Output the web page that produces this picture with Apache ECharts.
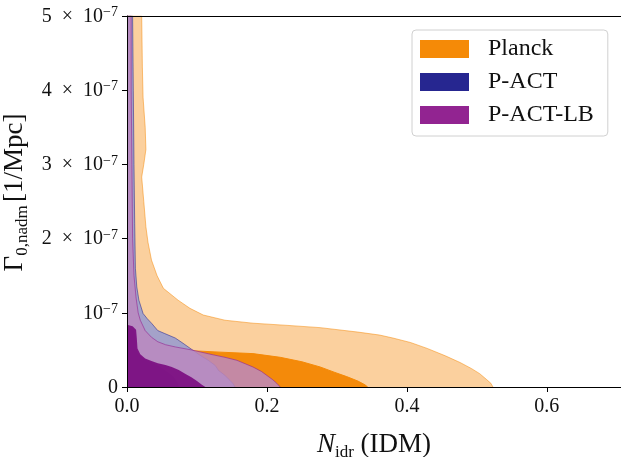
<!DOCTYPE html>
<html>
<head>
<meta charset="utf-8">
<script src="https://cdn.jsdelivr.net/npm/echarts@6/dist/echarts.min.js"></script>
<style>
  html, body { margin: 0; padding: 0; background: #fff; }
  #chart-panel { width: 621px; height: 457px; }
</style>
</head>
<body>
<div id="chart-panel"></div>
<script>
// contour edges, [N_idr, Gamma in units of 1e-7 1/Mpc], from the top-left down to the x axis
var planck95 = [[0, 5.0], [0.021, 5.0], [0.022, 4.3], [0.023, 3.9], [0.026, 3.5], [0.027, 3.2], [0.024, 3.0],
    [0.021, 2.83], [0.024, 2.5], [0.027, 2.16], [0.030, 1.95], [0.035, 1.71], [0.043, 1.5], [0.052, 1.33],
    [0.073, 1.17], [0.090, 1.06], [0.109, 0.97], [0.140, 0.90], [0.18, 0.86], [0.23, 0.83], [0.276, 0.80],
    [0.33, 0.74], [0.361, 0.70], [0.380, 0.66], [0.405, 0.60], [0.429, 0.52], [0.455, 0.42], [0.476, 0.33],
    [0.492, 0.25], [0.504, 0.18], [0.514, 0.10], [0.520, 0.05], [0.523, 0]];
var planck68 = [[0, 0.56], [0.03, 0.53], [0.06, 0.50], [0.09, 0.49], [0.133, 0.47], [0.18, 0.45], [0.219, 0.40],
    [0.25, 0.34], [0.276, 0.27], [0.296, 0.20], [0.314, 0.14], [0.330, 0.08], [0.340, 0.03], [0.344, 0]];
var pact95 = [[0, 5.0], [0.008, 5.0], [0.009, 4.0], [0.010, 3.0], [0.011, 2.2], [0.012, 1.6], [0.014, 1.35],
    [0.017, 1.17], [0.023, 0.99], [0.029, 0.92], [0.035, 0.86], [0.044, 0.76], [0.054, 0.72], [0.069, 0.66],
    [0.080, 0.59], [0.092, 0.51], [0.104, 0.43], [0.116, 0.36], [0.126, 0.29], [0.131, 0.22], [0.134, 0.20],
    [0.140, 0.155], [0.147, 0.09], [0.152, 0.04], [0.154, 0]];
var pact68 = [[0, 0.78], [0.010, 0.76], [0.012, 0.70], [0.013, 0.55], [0.015, 0.46], [0.020, 0.41], [0.026, 0.37],
    [0.035, 0.33], [0.044, 0.29], [0.052, 0.24], [0.060, 0.19], [0.066, 0.14], [0.070, 0.09], [0.073, 0.04],
    [0.074, 0]];
var pactlb95 = [[0, 5.0], [0.006, 5.0], [0.006, 4.0], [0.007, 3.0], [0.008, 2.0], [0.010, 1.5], [0.013, 1.2],
    [0.016, 1.0], [0.019, 0.90], [0.026, 0.76], [0.035, 0.67], [0.044, 0.61], [0.055, 0.57], [0.069, 0.54],
    [0.092, 0.50], [0.12, 0.44], [0.14, 0.40], [0.157, 0.36], [0.18, 0.27], [0.192, 0.21], [0.20, 0.155],
    [0.208, 0.10], [0.214, 0.05], [0.219, 0]];
var pactlb68 = [[0, 0.84], [0.008, 0.82], [0.013, 0.77], [0.014, 0.66], [0.015, 0.52], [0.019, 0.44],
    [0.026, 0.385], [0.035, 0.35], [0.044, 0.32], [0.055, 0.295], [0.064, 0.27], [0.074, 0.23], [0.083, 0.18],
    [0.092, 0.13], [0.100, 0.08], [0.107, 0.03], [0.112, 0]];

var names = ['Planck', 'P-ACT', 'P-ACT-LB'];
var colors = ['#f58a07', '#262690', '#922491'];
var xTicks = [0, 0.2, 0.4, 0.6];
var yTicks = [0, 1, 2, 3, 4, 5];

var font = "'Liberation Serif', 'DejaVu Serif', serif";

// each contour gets its own z so its edge line is covered by the next fill
function region(name, data, fill, opacity, edge, z) {
    return {
        name: name,
        type: 'line',
        z: z,
        data: data,
        symbol: 'none',
        silent: true,
        animation: false,
        lineStyle: { color: edge, width: 1 },
        areaStyle: { color: fill, opacity: opacity }
    };
}

var option = {
    animation: false,
    grid: { left: 127, top: 16, right: 0, bottom: 70, outerBoundsMode: 'none', containLabel: false },
    legend: {
        orient: 'vertical',
        left: 412,
        top: 30,
        z: 20,
        icon: 'rect',
        itemWidth: 49,
        itemHeight: 18,
        itemGap: 9,
        padding: [7, 14, 9, 8],
        borderColor: '#d0d0d0',
        borderWidth: 1,
        borderRadius: 4,
        backgroundColor: 'rgba(255,255,255,0.8)',
        textStyle: { fontFamily: font, fontSize: 24, color: '#111', padding: [0, 0, 0, 14] },
        data: names.map(function (n, i) {
            return { name: n, itemStyle: { color: colors[i], borderWidth: 0 } };
        })
    },
    xAxis: [{
        type: 'value',
        z: 15,
        min: 0,
        max: 0.706,
        name: '{i|N}{sub|idr}  {r|(IDM)}',
        nameLocation: 'middle',
        nameGap: 44,
        nameTextStyle: {
            rich: {
                i: { fontFamily: font, fontStyle: 'italic', fontSize: 27, lineHeight: 30, verticalAlign: 'top', color: '#111' },
                sub: { fontFamily: font, fontSize: 17, lineHeight: 30, verticalAlign: 'bottom', color: '#111' },
                r: { fontFamily: font, fontSize: 27, lineHeight: 30, verticalAlign: 'top', color: '#111' }
            }
        },
        splitLine: { show: false },
        axisLine: { lineStyle: { color: '#000', width: 1 } },
        axisTick: { customValues: xTicks, length: 5, lineStyle: { color: '#000' } },
        axisLabel: {
            customValues: xTicks,
            margin: 10,
            fontFamily: font,
            fontSize: 20,
            color: '#111',
            formatter: function (v) { return v.toFixed(1); }
        }
    }, {
        type: 'value',
        z: 15,
        position: 'top',
        min: 0,
        max: 0.706,
        axisLine: { show: true, lineStyle: { color: '#000', width: 1 } },
        axisTick: { show: false },
        axisLabel: { show: false },
        splitLine: { show: false }
    }],
    yAxis: {
        type: 'value',
        z: 15,
        min: 0,
        max: 5,
        name: '{g|Γ}{sub|0,nadm} {g|[1/Mpc]}',
        nameLocation: 'middle',
        nameGap: 86,
        nameTextStyle: {
            padding: [0, 0, 0, 18],
            rich: {
                g: { fontFamily: font, fontSize: 27, lineHeight: 30, verticalAlign: 'top', color: '#111' },
                sub: { fontFamily: font, fontSize: 17, lineHeight: 30, verticalAlign: 'bottom', color: '#111' }
            }
        },
        splitLine: { show: false },
        axisLine: { show: true, lineStyle: { color: '#000', width: 1 } },
        axisTick: { show: true, customValues: yTicks, length: 5, lineStyle: { color: '#000' } },
        axisLabel: {
            customValues: yTicks,
            margin: 9,
            formatter: function (v) {
                if (v === 0) return '{m|0}';
                if (v === 1) return '{m|10}{s|−7}';
                return '{m|' + v + '\u2002×\u200210}{s|−7}';
            },
            rich: {
                m: { fontFamily: font, fontSize: 20, lineHeight: 21, verticalAlign: 'bottom', color: '#111' },
                s: { fontFamily: font, fontSize: 14, lineHeight: 21, verticalAlign: 'top', color: '#111' }
            }
        }
    },
    series: [
        region('Planck', planck95, '#fbd09e', 1, 'rgba(245,138,7,0.5)', 2),
        region('Planck', planck68, '#f48a0a', 1, '#f58a07', 3),
        region('P-ACT', pact95, '#a4a2c9', 1, 'rgba(38,38,144,0.55)', 4),
        region('P-ACT', pact68, '#262690', 1, 'rgba(38,38,144,0)', 5),
        region('P-ACT-LB', pactlb95, '#bb88bf', 0.85, 'rgba(146,36,145,0.6)', 6),
        region('P-ACT-LB', pactlb68, '#7a0a80', 0.9, 'rgba(122,10,128,0)', 7)
    ]
};

var chart = echarts.init(document.getElementById('chart-panel'));
chart.setOption(option);
</script>
</body>
</html>
